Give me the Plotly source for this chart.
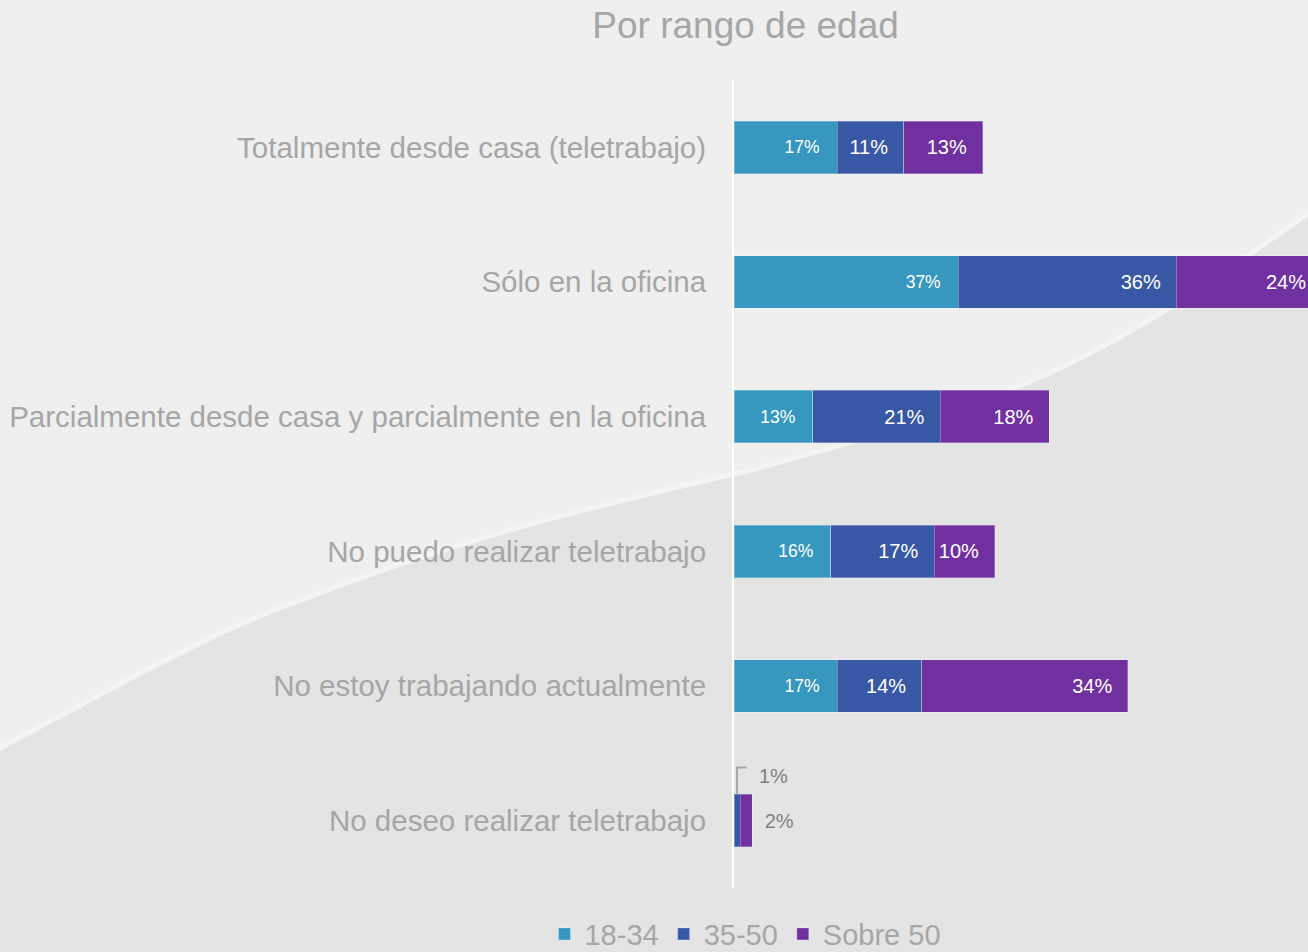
import plotly.graph_objects as go

categories = [
    "Totalmente desde casa (teletrabajo)",
    "Sólo en la oficina",
    "Parcialmente desde casa y parcialmente en la oficina",
    "No puedo realizar teletrabajo",
    "No estoy trabajando actualmente",
    "No deseo realizar teletrabajo",
]
series_names = ["18-34", "35-50", "Sobre 50"]
v_18_34 = [17, 37, 13, 16, 17, 0]
v_35_50 = [11, 36, 21, 17, 14, 1]
v_sobre50 = [13, 24, 18, 10, 34, 2]
colors = ["#3797be", "#3858a5", "#7030a0"]

X_MAX = 94.7
GREY = "#a6a6a6"
LBL_GREY = "#808080"
FONT = "Arial, Liberation Sans, sans-serif"
NB = "\u00a0"
PAD_S = NB * 3
PAD_L = NB * 2 + "\u200a"
EDGE = dict(width=1, color="rgba(255,255,255,0.3)")

totals = [a + b + c for a, b, c in zip(v_18_34, v_35_50, v_sobre50)]


def labels(vals, pad):
    return ["" if v <= 1 else f"{v}%" + pad for v in vals]


fig = go.Figure()

fig.add_trace(go.Bar(
    y=categories, x=v_18_34, name=series_names[0], orientation="h",
    marker=dict(color=colors[0], line=EDGE),
    text=labels(v_18_34, PAD_S), textposition="inside", insidetextanchor="end",
    textfont=dict(size=17.5, color="white", family=FONT),
    constraintext="none", width=0.39,
))
fig.add_trace(go.Bar(
    y=categories, x=v_35_50, name=series_names[1], orientation="h",
    marker=dict(color=colors[1], line=EDGE),
    text=labels(v_35_50, PAD_L), textposition="inside", insidetextanchor="end",
    textfont=dict(size=20, color="white", family=FONT),
    constraintext="none", width=0.39,
))

s50_text = labels(v_sobre50, PAD_L)
s50_pos = ["inside"] * len(v_sobre50)
s50_col = ["white"] * len(v_sobre50)
last = len(categories) - 1
s50_text[last] = NB + "\u2009" + f"{v_sobre50[last]}%"
s50_pos[last] = "outside"
s50_col[last] = LBL_GREY
clipped = [i for i, t in enumerate(totals) if t > X_MAX]
for i in clipped:
    s50_text[i] = ""

fig.add_trace(go.Bar(
    y=categories, x=v_sobre50, name=series_names[2], orientation="h",
    marker=dict(color=colors[2], line=EDGE),
    text=s50_text, textposition=s50_pos, insidetextanchor="end",
    textfont=dict(size=20, color=s50_col, family=FONT),
    constraintext="none", width=0.39, cliponaxis=False,
))

for i in clipped:
    fig.add_annotation(x=X_MAX, y=categories[i], text=f"{v_sobre50[i]}%",
                       showarrow=False, xanchor="right", yanchor="middle", xshift=0,
                       font=dict(size=20, color="white", family=FONT))

xmid = v_18_34[last] + v_35_50[last] / 2
path = f"M {xmid} {last - 0.2} L {xmid} {last - 0.394} L {xmid + 1.6} {last - 0.394}"

shapes = [
    # darker lower/right region of the background swoosh
    dict(type="path", xref="paper", yref="paper", layer="below",
         path="M -1.3 -0.1 L -1.3 0.165 C -1.05 0.26, -0.9 0.32, -0.756 0.356 "
              "C -0.45 0.44, -0.2 0.48, 0.028 0.517 C 0.2 0.55, 0.35 0.58, 0.481 0.616 "
              "C 0.7 0.68, 0.85 0.76, 1.02 0.845 L 1.02 -0.1 Z",
         fillcolor="#e4e4e4", line=dict(color="#f4f4f4", width=5)),
    dict(type="path", xref="x", yref="y", path=path,
         line=dict(color=GREY, width=2)),
]

fig.add_annotation(x=xmid + 3.3, y=last - 0.334, text=f"{v_35_50[last]}%",
                   showarrow=False, xanchor="left", yanchor="middle",
                   font=dict(size=20, color=LBL_GREY, family=FONT))

fig.update_layout(
    barmode="stack",
    width=1308, height=952,
    autosize=False,
    margin=dict(l=734, r=0, t=80, b=64, autoexpand=False),
    paper_bgcolor="#efefef",
    plot_bgcolor="rgba(0,0,0,0)",
    title=dict(text="Por rango de edad", x=0.570, xanchor="center", y=0.974, yanchor="middle",
               font=dict(size=37, color=GREY, family=FONT)),
    xaxis=dict(range=[0, X_MAX], visible=False, showgrid=False, zeroline=False),
    yaxis=dict(autorange="reversed", showgrid=False, zeroline=False,
               showline=True, linecolor="white", linewidth=2,
               ticks="", ticklabelstandoff=20,
               tickfont=dict(size=29.5, color=GREY, family=FONT)),
    legend=dict(orientation="h", x=0.02, xanchor="center", y=-0.057, yanchor="middle",
                font=dict(size=29, color=GREY, family=FONT),
                bgcolor="rgba(0,0,0,0)", itemwidth=30, traceorder="normal"),
    shapes=shapes,
    showlegend=True,
)

fig.write_html(
    "out.html",
    config={"responsive": False, "displayModeBar": False},
    default_width="1308px",
    default_height="952px",
    post_script=(
        "document.documentElement.style.margin='0';"
        "document.body.style.margin='0';document.body.style.overflow='hidden';"
        "document.body.style.background='#efefef';"
    ),
)
